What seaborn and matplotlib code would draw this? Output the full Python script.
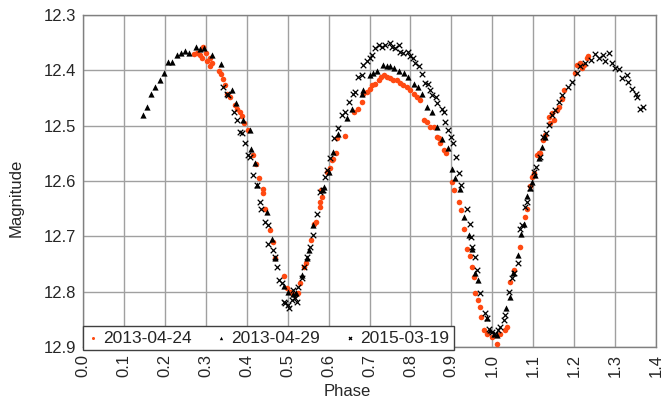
import matplotlib
matplotlib.use("Agg")
import matplotlib.pyplot as plt
import seaborn as sns
import pandas as pd

# Light curve observations: orbital phase vs. magnitude, one night per series
phase_130424 = [0.270, 0.278, 0.286, 0.290, 0.293, 0.301, 0.304, 0.310, 0.314, 0.310,
                0.333, 0.337, 0.343, 0.347, 0.351, 0.359, 0.372, 0.377, 0.384, 0.388,
                0.394, 0.402, 0.415, 0.423, 0.431, 0.441, 0.439, 0.445, 0.457, 0.464,
                0.469, 0.490, 0.498, 0.506, 0.512, 0.519, 0.526, 0.531, 0.540, 0.545,
                0.557, 0.565, 0.570, 0.578, 0.579, 0.584, 0.581, 0.596, 0.604, 0.608,
                0.610, 0.619, 0.620, 0.641, 0.661, 0.673, 0.681, 0.685, 0.694, 0.700,
                0.706, 0.714, 0.722, 0.729, 0.735, 0.742, 0.750, 0.758, 0.767, 0.775,
                0.783, 0.792, 0.800, 0.808, 0.816, 0.824, 0.832, 0.840, 0.848, 0.857,
                0.865, 0.869, 0.873, 0.881, 0.888, 0.901, 0.907, 0.918, 0.923, 0.930,
                0.938, 0.945, 0.950, 0.956, 0.958, 0.966, 0.971, 0.972, 0.979, 0.987,
                0.999, 1.011, 1.020, 1.032, 1.037, 1.044, 1.052, 1.068, 1.081, 1.085,
                1.093, 1.097, 1.103, 1.109, 1.113, 1.117, 1.124, 1.130, 1.138, 1.142,
                1.146, 1.150, 1.157, 1.162, 1.170, 1.176, 1.203, 1.207, 1.215, 1.219,
                1.223, 1.231, 1.235]
mag_130424 = [12.371, 12.369, 12.372, 12.377, 12.358, 12.369, 12.383, 12.378, 12.387, 12.392,
              12.402, 12.407, 12.416, 12.427, 12.442, 12.448, 12.463, 12.469, 12.475, 12.483,
              12.495, 12.507, 12.553, 12.569, 12.595, 12.615, 12.621, 12.651, 12.689, 12.710,
              12.740, 12.772, 12.794, 12.800, 12.804, 12.806, 12.802, 12.785, 12.755, 12.748,
              12.707, 12.677, 12.674, 12.647, 12.638, 12.629, 12.616, 12.583, 12.577, 12.562,
              12.561, 12.550, 12.523, 12.519, 12.475, 12.469, 12.457, 12.442, 12.439, 12.433,
              12.427, 12.424, 12.418, 12.412, 12.408, 12.412, 12.414, 12.418, 12.418, 12.422,
              12.427, 12.430, 12.436, 12.442, 12.448, 12.454, 12.490, 12.493, 12.502, 12.502,
              12.520, 12.523, 12.532, 12.544, 12.550, 12.601, 12.616, 12.638, 12.653, 12.686,
              12.722, 12.736, 12.755, 12.774, 12.803, 12.815, 12.827, 12.846, 12.870, 12.876,
              12.882, 12.894, 12.876, 12.870, 12.864, 12.782, 12.761, 12.719, 12.665, 12.650,
              12.609, 12.592, 12.585, 12.553, 12.549, 12.550, 12.526, 12.517, 12.484, 12.496,
              12.478, 12.490, 12.472, 12.467, 12.451, 12.436, 12.405, 12.390, 12.387, 12.396,
              12.390, 12.378, 12.374]

phase_130429 = [0.146, 0.156, 0.167, 0.177, 0.188, 0.199, 0.208, 0.218, 0.229, 0.239,
                0.249, 0.260, 0.275, 0.286, 0.296, 0.315, 0.337, 0.363, 0.374, 0.392,
                0.407, 0.410, 0.421, 0.425, 0.449, 0.461, 0.469, 0.490, 0.502, 0.512,
                0.520, 0.535, 0.547, 0.553, 0.563, 0.584, 0.590, 0.600, 0.612, 0.624,
                0.645, 0.657, 0.681, 0.685, 0.700, 0.708, 0.718, 0.733, 0.742, 0.750,
                0.760, 0.773, 0.785, 0.795, 0.808, 0.818, 0.828, 0.840, 0.852, 0.865,
                0.877, 0.893, 0.901, 0.910, 0.922, 0.930, 0.942, 0.950, 0.958, 0.966,
                0.987, 0.995, 1.003, 1.011, 1.034, 1.044, 1.050, 1.062, 1.070, 1.077,
                1.085, 1.093, 1.097, 1.105, 1.113, 1.121, 1.130]
mag_130429 = [12.481, 12.466, 12.443, 12.431, 12.418, 12.405, 12.385, 12.385, 12.372, 12.369,
              12.365, 12.369, 12.358, 12.362, 12.360, 12.372, 12.389, 12.436, 12.459, 12.490,
              12.508, 12.543, 12.567, 12.607, 12.656, 12.704, 12.740, 12.790, 12.800, 12.804,
              12.802, 12.770, 12.740, 12.724, 12.680, 12.616, 12.610, 12.583, 12.547, 12.515,
              12.487, 12.469, 12.442, 12.436, 12.408, 12.405, 12.402, 12.390, 12.393, 12.392,
              12.395, 12.402, 12.405, 12.412, 12.424, 12.430, 12.442, 12.466, 12.475, 12.502,
              12.525, 12.541, 12.579, 12.595, 12.615, 12.665, 12.698, 12.722, 12.767, 12.779,
              12.848, 12.870, 12.876, 12.879, 12.830, 12.809, 12.767, 12.734, 12.695, 12.677,
              12.627, 12.612, 12.601, 12.589, 12.559, 12.539, 12.521]

phase_150319 = [0.341, 0.351, 0.355, 0.369, 0.377, 0.384, 0.388, 0.396, 0.404, 0.408,
                0.416, 0.425, 0.432, 0.436, 0.445, 0.451, 0.453, 0.464, 0.469, 0.474,
                0.480, 0.486, 0.490, 0.494, 0.500, 0.504, 0.510, 0.518, 0.523, 0.514,
                0.526, 0.535, 0.540, 0.548, 0.555, 0.562, 0.571, 0.579, 0.586, 0.592,
                0.596, 0.604, 0.614, 0.623, 0.633, 0.641, 0.649, 0.659, 0.665, 0.673,
                0.681, 0.685, 0.694, 0.700, 0.706, 0.714, 0.722, 0.730, 0.738, 0.749,
                0.755, 0.763, 0.771, 0.775, 0.783, 0.793, 0.800, 0.806, 0.812, 0.820,
                0.828, 0.836, 0.842, 0.848, 0.853, 0.863, 0.866, 0.877, 0.881, 0.885,
                0.893, 0.899, 0.904, 0.912, 0.918, 0.923, 0.937, 0.945, 0.949, 0.950,
                0.958, 0.963, 0.971, 0.983, 0.987, 0.991, 0.999, 1.007, 1.015, 1.020,
                1.028, 1.032, 1.040, 1.048, 1.052, 1.062, 1.068, 1.073, 1.081, 1.085,
                1.093, 1.101, 1.108, 1.117, 1.125, 1.132, 1.138, 1.146, 1.154, 1.162,
                1.170, 1.186, 1.194, 1.207, 1.215, 1.227, 1.241, 1.252, 1.260, 1.271,
                1.276, 1.284, 1.293, 1.301, 1.309, 1.318, 1.328, 1.331, 1.341, 1.350,
                1.354, 1.362, 1.369]
mag_150319 = [12.430, 12.442, 12.445, 12.475, 12.490, 12.511, 12.514, 12.532, 12.553, 12.556,
              12.589, 12.607, 12.638, 12.650, 12.674, 12.680, 12.713, 12.725, 12.737, 12.755,
              12.779, 12.785, 12.818, 12.821, 12.824, 12.830, 12.815, 12.812, 12.818, 12.797,
              12.791, 12.776, 12.755, 12.737, 12.719, 12.698, 12.659, 12.620, 12.616, 12.592,
              12.580, 12.559, 12.523, 12.505, 12.481, 12.475, 12.457, 12.442, 12.439, 12.412,
              12.408, 12.390, 12.384, 12.378, 12.372, 12.360, 12.354, 12.357, 12.354, 12.350,
              12.357, 12.360, 12.354, 12.366, 12.368, 12.366, 12.375, 12.378, 12.387, 12.393,
              12.407, 12.422, 12.425, 12.436, 12.445, 12.448, 12.459, 12.469, 12.475, 12.493,
              12.508, 12.520, 12.531, 12.556, 12.585, 12.607, 12.650, 12.678, 12.701, 12.719,
              12.737, 12.761, 12.803, 12.839, 12.848, 12.867, 12.873, 12.876, 12.870, 12.864,
              12.852, 12.843, 12.800, 12.776, 12.767, 12.749, 12.686, 12.680, 12.647, 12.638,
              12.613, 12.583, 12.574, 12.556, 12.520, 12.514, 12.499, 12.481, 12.472, 12.457,
              12.445, 12.430, 12.421, 12.405, 12.393, 12.387, 12.381, 12.371, 12.378, 12.372,
              12.384, 12.369, 12.387, 12.396, 12.398, 12.413, 12.408, 12.421, 12.434, 12.442,
              12.448, 12.469, 12.466]

series_labels = ["2013-04-24", "2013-04-29", "2015-03-19"]
x_ticks = [0.0, 0.1, 0.2, 0.3, 0.4, 0.5, 0.6, 0.7, 0.8, 0.9, 1.0, 1.1, 1.2, 1.3, 1.4]
y_ticks = [12.3, 12.4, 12.5, 12.6, 12.7, 12.8, 12.9]

sns.set_style("white")
plt.rcParams["font.family"] = ["Liberation Sans", "DejaVu Sans"]

frames = []
for lab, ph, mg in [(series_labels[0], phase_130424, mag_130424),
                    (series_labels[1], phase_130429, mag_130429),
                    (series_labels[2], phase_150319, mag_150319)]:
    frames.append(pd.DataFrame({"Phase": ph, "Magnitude": mg, "Date": lab}))
df = pd.concat(frames, ignore_index=True)

fig = plt.figure(figsize=(6.63, 4.04), dpi=100)
ax = fig.add_axes([83 / 663, 1 - 347 / 404, 573 / 663, 332 / 404])

styles = {
    "2013-04-24": dict(marker="o", color="#FF4A12", s=16, linewidth=0),
    "2013-04-29": dict(marker="^", color="black", s=20, linewidth=0),
    "2015-03-19": dict(marker="x", color="black", s=16, linewidth=0.9),
}
for lab in series_labels:
    sub = df[df["Date"] == lab]
    sns.scatterplot(data=sub, x="Phase", y="Magnitude", ax=ax, label=lab,
                    zorder=3, **styles[lab])

ax.set_xlim(0, 1.4)
ax.set_ylim(12.9, 12.3)
ax.set_xticks(x_ticks)
ax.set_yticks(y_ticks)
ax.set_xticklabels([f"{t:.1f}" for t in x_ticks], rotation=90, fontsize=12)
ax.set_yticklabels([f"{t:.1f}" for t in y_ticks], fontsize=12)
ax.tick_params(length=0, pad=5)
ax.grid(True, color="#A0A0A0", linewidth=1.0, zorder=0)
ax.set_axisbelow(True)
for sp in ax.spines.values():
    sp.set_color("#808080")
    sp.set_linewidth(1.0)

ax.set_xlabel("Phase", fontsize=12, va="center")
ax.set_ylabel("Magnitude", fontsize=12, va="center")
ax.xaxis.set_label_coords((347.5 - 83) / 573, -(392 - 347) / 332)
ax.yaxis.set_label_coords(-(83 - 16) / 573, 1 - (198 - 15) / 332)

leg = ax.legend(loc="lower left", bbox_to_anchor=(83 / 663, 1 - 350 / 404),
                bbox_transform=fig.transFigure, borderaxespad=0, ncol=3,
                fontsize=12.5, frameon=True, fancybox=False, framealpha=1,
                edgecolor="#404040", handlelength=0.6, handletextpad=0.3,
                columnspacing=1.4, borderpad=0.25, markerscale=0.55)
leg.get_frame().set_linewidth(1.0)
leg.set_zorder(5)

fig.savefig("out.png", dpi=100)
